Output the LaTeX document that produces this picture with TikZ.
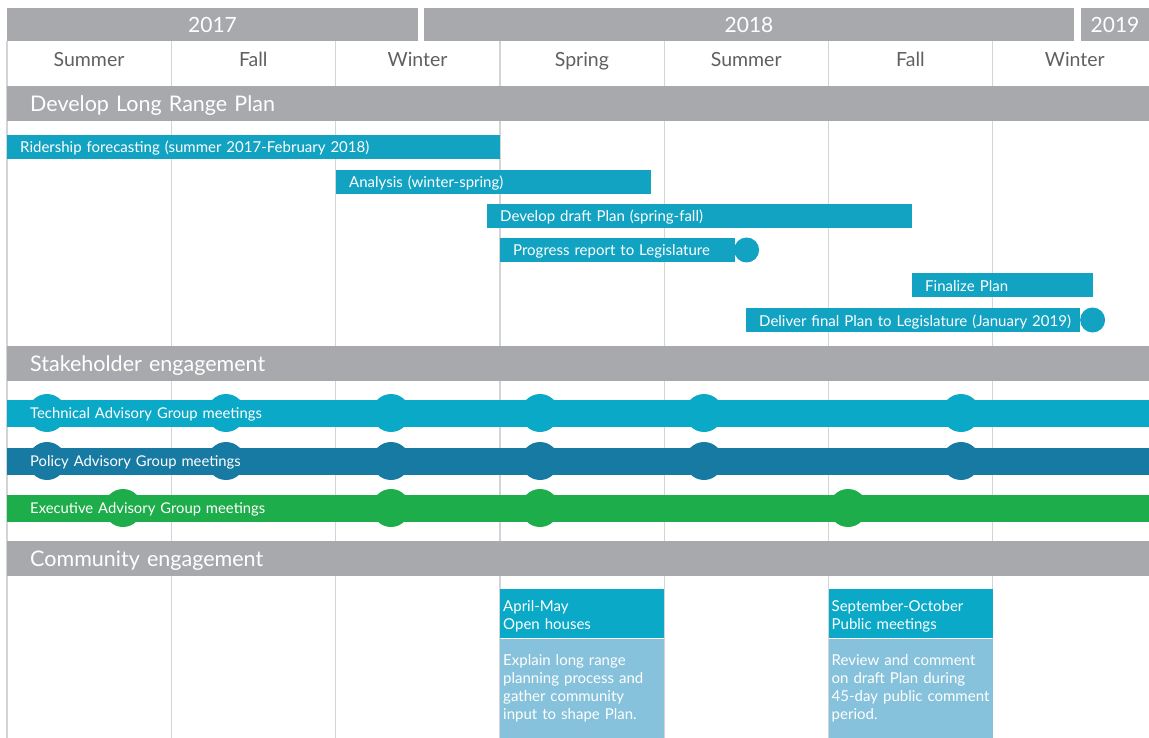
\documentclass[tikz,border=0pt]{standalone}
\usepackage{fontspec}
\setmainfont{Lato}
\usetikzlibrary{positioning}
\definecolor{HdrGray}{HTML}{A7A9AC}
\definecolor{GridGray}{HTML}{D3D4D6}
\definecolor{SeasonText}{HTML}{5F6062}
\definecolor{TaskCyan}{HTML}{12A3C3}
\definecolor{TechCyan}{HTML}{0BA9C8}
\definecolor{PolicyBlue}{HTML}{167AA3}
\definecolor{ExecGreen}{HTML}{1DAD4A}
\definecolor{NoteBlue}{HTML}{86C2DB}

\begin{document}
\begin{tikzpicture}[
  x=1pt, y=-1pt,
  yearbox/.style={fill=HdrGray,text=white,minimum height=33,inner sep=0,font=\fontsize{21}{24}\selectfont},
  season/.style={text=SeasonText,anchor=base,font=\fontsize{19.5}{22}\selectfont},
  section/.style={fill=HdrGray,text=white,anchor=west,minimum height=35,inner ysep=0,inner xsep=23pt,text width=1096pt,align=left,text height=16pt,text depth=0pt,font=\fontsize{21.5}{24}\selectfont},
  taskbar/.style={fill=TaskCyan,text=white,anchor=west,minimum height=24,inner ysep=0,inner xsep=13pt,text width={#1-26pt},align=left,text height=12pt,text depth=0pt,font=\fontsize{15}{18}\selectfont},
  milestone/.style={circle,fill=TaskCyan,minimum size=25,inner sep=0},
  band/.style={fill=#1,text=white,anchor=west,minimum height=27,inner ysep=0,inner xsep=23pt,text width=1096pt,align=left,text height=11pt,text depth=1pt,font=\fontsize{14.8}{18}\selectfont},
  meet/.style={circle,fill=#1,minimum size=38,inner sep=0},
  meethead/.style={fill=TechCyan,text=white,anchor=north west,minimum height=49,inner ysep=0,inner xsep=3pt,text width=158pt,text height=17pt,align=left,font=\fontsize{15}{18}\selectfont},
  meetnote/.style={fill=NoteBlue,text=white,minimum height=100,inner xsep=3pt,text width=158pt,align=left,font=\fontsize{15}{18}\selectfont},
  gridline/.style={GridGray,line width=1.3pt}
]
\useasboundingbox (0,0) rectangle (1149,738);

% season grid
\foreach \k in {0,...,6}
  \draw[gridline] ({7+164.3*\k},41) -- ({7+164.3*\k},738);

% years and seasons
\node[yearbox,minimum width=411] (y2017) at (212.5,24.5) {2017};
\node[yearbox,minimum width=650] (y2018) at (749,24.5) {2018};
\node[yearbox,minimum width=68] (y2019) at (1115,24.5) {2019};
\foreach \s [count=\k from 0] in {Summer,Fall,Winter,Spring,Summer,Fall,Winter}
  \node[season] (season-\k) at ({89+164.3*\k},67) {\s};

% section headers
\node[section] (plan) at (7,103.5) {Develop Long Range Plan};
\node[section] (stake) at (7,363.5) {Stakeholder engagement};
\node[section] (community) at (7,558.5) {Community engagement};

% plan tasks
\node[taskbar=493pt] (ridership) at (7,147) {Ridership forecasting (summer 2017-February 2018)};
\node[taskbar=315pt] (analysis) at (336,182) {Analysis (winter-spring)};
\node[taskbar=425pt] (draft) at (487,216) {Develop draft Plan (spring-fall)};
\node[taskbar=235pt] (progress) at (500,250) {Progress report to Legislature};
\node[milestone,right=-1.5pt of progress] (progress-dot) {};
\node[taskbar=181pt] (finalize) at (912,285) {Finalize Plan};
\node[taskbar=334pt] (deliver) at (746,320) {\mbox{Deliver final Plan to Legislature (January 2019)}};
\node[milestone,right=-0.5pt of deliver] (deliver-dot) {};

% advisory group meetings
\foreach \x in {47,226,391,540,704,961}
  \node[meet=TechCyan] (tech-\x) at (\x,413) {};
\node[band=TechCyan] (tech) at (7,413) {Technical Advisory Group meetings};
\foreach \x in {47,226,391,540,704,961}
  \node[meet=PolicyBlue] (policy-\x) at (\x,461) {};
\node[band=PolicyBlue] (policy) at (7,461) {Policy Advisory Group meetings};
\foreach \x in {123,391,540,848}
  \node[meet=ExecGreen] (exec-\x) at (\x,508) {};
\node[band=ExecGreen] (exec) at (7,508) {Executive Advisory Group meetings};

% community events
\node[meethead] (houses) at (500,589) {April-May\\Open houses};
\node[meetnote,below=0pt of houses] (houses-note) {Explain long range\\planning process and\\gather community\\input to shape Plan.};
\node[meethead] (meetings) at (828.5,589) {September-October\\Public meetings};
\node[meetnote,below=0pt of meetings] (meetings-note) {Review and comment\\on draft Plan during\\45-day public comment\\period.};
\end{tikzpicture}
\end{document}
